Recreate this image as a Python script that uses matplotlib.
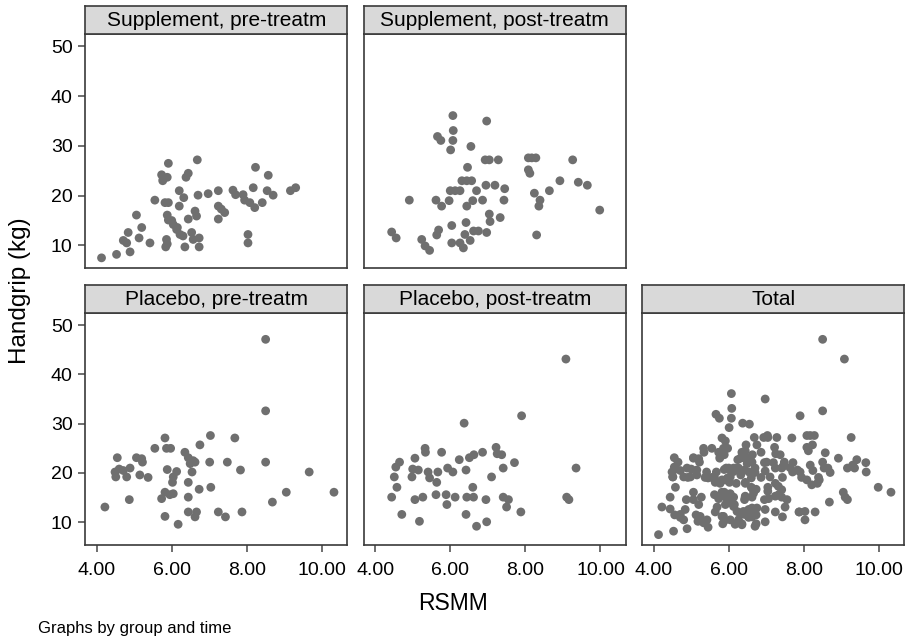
import numpy as np
import matplotlib
matplotlib.use("Agg")
import matplotlib.pyplot as plt

plt.rcParams['font.family'] = ['Liberation Sans', 'DejaVu Sans']

# RSMM / handgrip pairs
supp_pre_x = [4.13, 4.53, 4.89, 4.80, 4.71, 4.84, 5.13, 5.20, 5.06, 5.42, 5.55, 5.82, 5.91,
              5.88, 5.91, 6.04, 6.13, 6.22, 6.30, 5.86, 5.84, 5.88, 6.35, 6.53, 6.57, 6.73,
              6.73, 6.62, 6.66, 6.44, 6.20, 6.20, 6.32, 6.70, 6.38, 6.44, 5.73, 5.77, 5.88,
              5.76, 5.91, 6.68, 6.97, 7.24, 7.24, 7.32, 7.41, 7.24, 7.63, 7.70, 7.90, 7.94,
              8.08, 8.17, 8.21, 8.41, 8.03, 8.03, 8.23, 8.57, 8.54, 8.70, 9.16, 9.30, 6.00,
              6.15]
supp_pre_y = [7.5, 8.2, 8.7, 10.5, 11.0, 12.6, 11.5, 13.6, 16.1, 10.5, 19.1, 18.6, 18.6,
              16.1, 15.1, 14.2, 13.2, 12.2, 11.9, 11.2, 9.7, 10.3, 9.7, 12.6, 11.2, 11.5,
              9.7, 16.9, 15.9, 15.3, 17.9, 21.0, 19.6, 20.1, 23.7, 24.5, 24.2, 23.3, 23.7,
              23.0, 26.5, 27.2, 20.4, 21.0, 17.9, 17.3, 16.6, 15.3, 21.1, 20.2, 20.2, 19.1,
              18.6, 21.6, 17.6, 18.6, 12.2, 10.5, 25.7, 24.1, 21.0, 20.1, 21.0, 21.6, 15.0,
              13.6]

supp_post_x = [4.44, 4.56, 4.91, 5.24, 5.33, 5.45, 5.69, 5.64, 5.62, 5.77, 5.66, 5.75, 6.07,
               6.08, 6.07, 6.01, 6.04, 6.04, 5.97, 6.00, 6.13, 6.26, 6.31, 6.44, 6.57, 6.46,
               6.55, 6.70, 6.60, 6.44, 6.86, 6.95, 7.19, 7.45, 7.43, 6.42, 6.26, 6.35, 6.39,
               6.53, 6.62, 6.75, 6.97, 7.04, 7.06, 7.33, 6.97, 6.93, 7.04, 7.28, 8.08, 8.17,
               8.28, 8.08, 8.12, 8.24, 8.39, 8.36, 8.30, 8.64, 8.92, 9.26, 9.41, 9.65, 9.98]
supp_post_y = [12.7, 11.5, 19.1, 11.2, 9.9, 9.0, 13.1, 12.1, 19.1, 17.9, 31.9, 31.1, 36.1,
               33.1, 31.1, 29.2, 14.0, 10.5, 19.0, 21.0, 21.0, 21.0, 23.0, 23.0, 23.0, 25.7,
               29.9, 21.0, 19.0, 17.9, 19.1, 22.1, 22.1, 21.4, 19.1, 14.6, 10.5, 9.5, 12.2,
               11.0, 12.9, 12.9, 12.6, 16.3, 14.8, 15.6, 35.0, 27.2, 27.2, 27.2, 27.6, 27.6,
               27.6, 25.2, 24.5, 20.5, 19.1, 17.9, 12.1, 21.0, 23.0, 27.2, 22.7, 22.1, 17.1]

plac_pre_x = [4.22, 4.87, 4.55, 4.49, 4.51, 4.60, 4.71, 4.80, 4.89, 5.15, 5.06, 5.20, 5.22,
              5.37, 5.55, 5.82, 5.86, 5.97, 5.88, 6.13, 6.04, 6.02, 5.82, 5.95, 6.04, 5.73,
              5.82, 6.17, 6.35, 6.44, 6.57, 6.49, 6.62, 6.54, 6.44, 6.73, 6.44, 6.44, 6.66,
              6.62, 6.75, 7.03, 7.01, 7.04, 7.24, 7.43, 7.48, 7.68, 7.83, 7.87, 8.50, 8.50,
              8.50, 8.68, 9.05, 9.66, 10.32]
plac_pre_y = [13.1, 14.6, 23.1, 20.2, 19.2, 20.8, 20.5, 19.2, 21.0, 19.6, 23.1, 22.9, 22.2,
              19.1, 25.0, 27.1, 25.0, 25.0, 20.7, 20.3, 19.2, 18.1, 16.1, 15.6, 15.8, 14.8,
              11.2, 9.6, 24.2, 23.1, 22.5, 21.9, 22.2, 20.2, 18.1, 16.7, 15.1, 12.1, 12.1,
              11.1, 25.7, 27.6, 22.2, 17.1, 12.1, 11.1, 22.2, 27.1, 20.6, 12.1, 47.1, 32.6,
              22.2, 14.1, 16.1, 20.2, 16.1]

plac_post_x = [4.44, 4.71, 4.58, 4.51, 4.55, 4.65, 5.06, 5.27, 5.18, 4.98, 5.00, 5.06, 5.15,
               5.33, 5.34, 5.41, 5.45, 5.64, 5.67, 5.77, 5.62, 5.89, 5.91, 5.93, 6.07, 6.13,
               6.24, 6.37, 6.42, 6.44, 6.62, 6.60, 6.42, 6.70, 6.97, 6.51, 6.63, 6.86, 6.95,
               7.10, 7.22, 7.25, 7.37, 7.41, 7.41, 7.55, 7.50, 7.71, 7.88, 7.90, 9.08, 9.10,
               9.16, 9.35]
plac_post_y = [15.1, 11.6, 17.1, 19.2, 21.2, 22.2, 14.6, 15.1, 10.2, 19.2, 20.8, 23.0, 20.6,
               25.0, 24.2, 20.2, 19.0, 18.1, 20.2, 24.2, 15.6, 15.6, 13.6, 21.0, 20.2, 15.1,
               22.7, 30.1, 20.6, 15.1, 15.1, 17.1, 11.6, 9.2, 10.1, 23.1, 23.7, 24.2, 14.6,
               19.2, 25.2, 23.9, 23.7, 21.0, 15.1, 14.6, 13.1, 22.1, 12.1, 31.6, 43.1, 15.1,
               14.6, 21.0]

titles = ["Supplement, pre-treatm", "Supplement, post-treatm", "Placebo, pre-treatm",
          "Placebo, post-treatm", "Total"]
xticks = [4, 6, 8, 10]
yticks = [10, 20, 30, 40, 50]

total_x = supp_pre_x + supp_post_x + plac_pre_x + plac_post_x
total_y = supp_pre_y + supp_post_y + plac_pre_y + plac_post_y
series = [(supp_pre_x, supp_pre_y), (supp_post_x, supp_post_y),
          (plac_pre_x, plac_pre_y), (plac_post_x, plac_post_y), (total_x, total_y)]

W, H = 906, 642
fig = plt.figure(figsize=(W / 100, H / 100), dpi=100)

col_left = [85, 363.5, 642]
pw = 262.5
rows = [(34, 268.3), (312.7, 545)]   # plot top, bottom in px
strip_h = 28
slots = [(0, 0), (0, 1), (1, 0), (1, 1), (1, 2)]
frame = '#3a3a3a'

for (r, c), title, (xs, ys) in zip(slots, titles, series):
    top, bot = rows[r]
    ax = fig.add_axes([col_left[c] / W, 1 - bot / H, pw / W, (bot - top) / H])
    ax.scatter(xs, ys, s=40, color='#6f6f6f', edgecolors='none', zorder=3)
    ax.set_xlim(3.69, 10.68)
    ax.set_ylim(5.4, 52.5)
    for sp in ax.spines.values():
        sp.set_color(frame)
        sp.set_linewidth(1.2)
    ax.tick_params(colors='#555555', labelcolor='black', labelsize=14, length=5, width=1.2,
                   pad=4)
    ax.tick_params(axis='x', pad=7)
    if c == 0:
        ax.set_yticks(yticks)
    else:
        ax.set_yticks([])
    if r == 1:
        ax.set_xticks(xticks)
        ax.set_xticklabels(['%.2f' % v for v in xticks])
    else:
        ax.set_xticks([])

    sax = fig.add_axes([col_left[c] / W, 1 - top / H, pw / W, strip_h / H])
    sax.set_facecolor('#d9d9d9')
    sax.set_xticks([])
    sax.set_yticks([])
    for sp in sax.spines.values():
        sp.set_color(frame)
        sp.set_linewidth(1.2)
    sax.text(0.5, 0.47, title, ha='center', va='center', fontsize=15,
             transform=sax.transAxes)

fig.text(453 / W, 1 - 603 / H, "RSMM", ha='center', va='center', fontsize=16.5)
fig.text(20 / W, 1 - 291 / H, "Handgrip (kg)", ha='center', va='center',
         rotation=90, fontsize=17.5)
fig.text(38 / W, 1 - 628 / H, "Graphs by group and time", ha='left', va='center',
         fontsize=12)

fig.savefig("out.png", dpi=100)
